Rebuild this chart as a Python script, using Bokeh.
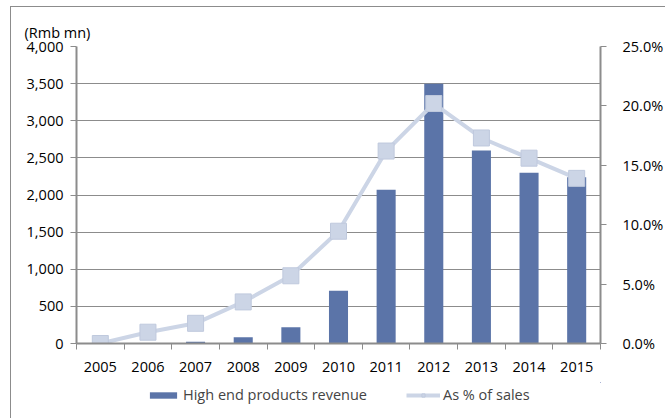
from bokeh.plotting import figure
from bokeh.layouts import column
from bokeh.models import (LinearAxis, Range1d, FixedTicker, NumeralTickFormatter,
                          Legend, LegendItem, ColumnDataSource)
from bokeh.embed import file_html
from bokeh.resources import INLINE

years = ["2005", "2006", "2007", "2008", "2009", "2010", "2011", "2012", "2013", "2014", "2015"]
revenue = [0, 0, 22, 85, 220, 712, 2070, 3500, 2600, 2300, 2240]
pct_sales = [0.0, 0.0095, 0.017, 0.035, 0.057, 0.0945, 0.162, 0.202, 0.173, 0.156, 0.139]
left_ticks = [0, 500, 1000, 1500, 2000, 2500, 3000, 3500, 4000]
right_ticks = [0.0, 0.05, 0.10, 0.15, 0.20, 0.25]
series_names = ["High end products revenue", "As % of sales"]

FONT = "Open Sans"
FS = "14.5px"
GRID = "#8c8c8c"
BAR = "#5b74a8"
LINE = "#ccd5e6"
MK_LINE = "#bfc9dd"

xs = [i + 0.5 for i in range(len(years))]
src = ColumnDataSource(dict(x=xs, rev=revenue, pct=pct_sales))

p = figure(width=655, height=375, output_backend="svg", toolbar_location=None,
           x_range=Range1d(0, len(years)), y_range=Range1d(0, 4000),
           min_border_left=65, min_border_right=64, min_border_top=39, min_border_bottom=39)
p.outline_line_color = None
p.extra_y_ranges = {"pct": Range1d(0, 0.25)}

bars = p.vbar(x="x", top="rev", width=0.4, source=src, fill_color=BAR, line_color=None)
ln = p.line(x="x", y="pct", source=src, y_range_name="pct", line_color=LINE, line_width=4)
mk = p.scatter(x="x", y="pct", source=src, y_range_name="pct", marker="square", size=16,
               fill_color=LINE, line_color=MK_LINE, line_width=1)

# x axis
xa = p.xaxis[0]
xa.ticker = FixedTicker(ticks=xs, minor_ticks=list(range(len(years) + 1)))
xa.major_label_overrides = {x: y for x, y in zip(xs, years)}
xa.major_tick_out = 0
xa.major_tick_in = 0
xa.minor_tick_out = 6
xa.minor_tick_in = 0
xa.minor_tick_line_color = GRID
xa.axis_line_color = GRID
xa.axis_line_width = 2
xa.major_label_standoff = 12
xa.major_label_text_font = FONT
xa.major_label_text_font_size = FS
xa.major_label_text_color = "black"

# left axis
ya = p.yaxis[0]
ya.ticker = FixedTicker(ticks=left_ticks)
ya.formatter = NumeralTickFormatter(format="0,0")
ya.minor_tick_line_color = None
ya.major_tick_out = 6
ya.major_tick_in = 0
ya.major_tick_line_color = GRID
ya.axis_line_color = GRID
ya.axis_line_width = 2
ya.major_label_standoff = 7
ya.major_label_text_font = FONT
ya.major_label_text_font_size = FS
ya.major_label_text_color = "black"

# right axis
ra = LinearAxis(y_range_name="pct", ticker=FixedTicker(ticks=right_ticks),
                formatter=NumeralTickFormatter(format="0.0%"))
ra.minor_tick_line_color = None
ra.major_tick_out = 6
ra.major_tick_in = 0
ra.major_tick_line_color = GRID
ra.axis_line_color = GRID
ra.axis_line_width = 2
ra.major_label_standoff = 16
ra.major_label_text_font = FONT
ra.major_label_text_font_size = FS
ra.major_label_text_color = "black"
p.add_layout(ra, "right")

p.xgrid.grid_line_color = None
p.ygrid.ticker = FixedTicker(ticks=left_ticks)
p.ygrid.grid_line_color = GRID
p.ygrid.grid_line_width = 1

p.title.text = "(Rmb mn)"
p.title.align = "left"
p.title.offset = -52
p.title.text_font = FONT
p.title.text_font_size = FS
p.title.text_font_style = "normal"
p.title.text_color = "black"

# legend strip below the chart (glyphs share the data but lie outside its view)
lf = figure(width=655, height=37, output_backend="svg", toolbar_location=None,
            x_range=Range1d(-1001, -1000), y_range=Range1d(-1001, -1000),
            min_border=0, min_border_left=0, min_border_right=0,
            min_border_top=0, min_border_bottom=0)
lf.axis.visible = False
lf.grid.visible = False
lf.outline_line_color = None
lb = lf.vbar(x="x", top="rev", width=0.4, source=src, fill_color=BAR, line_color=None)
ll = lf.line(x="x", y="pct", source=src, line_color=LINE, line_width=4)
lm = lf.scatter(x="x", y="pct", source=src, marker="square", size=16, fill_color=LINE,
                line_color=MK_LINE, line_width=1)
legend = Legend(items=[LegendItem(label=series_names[0], renderers=[lb]),
                       LegendItem(label=series_names[1], renderers=[ll, lm])],
                orientation="horizontal", location=(70, 15),
                label_text_font=FONT, label_text_font_size=FS,
                glyph_width=34, glyph_height=8, label_standoff=3, spacing=39,
                border_line_color=None, background_fill_alpha=0,
                padding=2, margin=0)
lf.add_layout(legend)

layout = column(p, lf, spacing=0)
layout.margin = (6, 0, 0, 10)
layout.styles = {"border-top": "1px solid #8c8c8c", "border-left": "1px solid #8c8c8c"}

open("out.html", "w").write(file_html(layout, INLINE))
